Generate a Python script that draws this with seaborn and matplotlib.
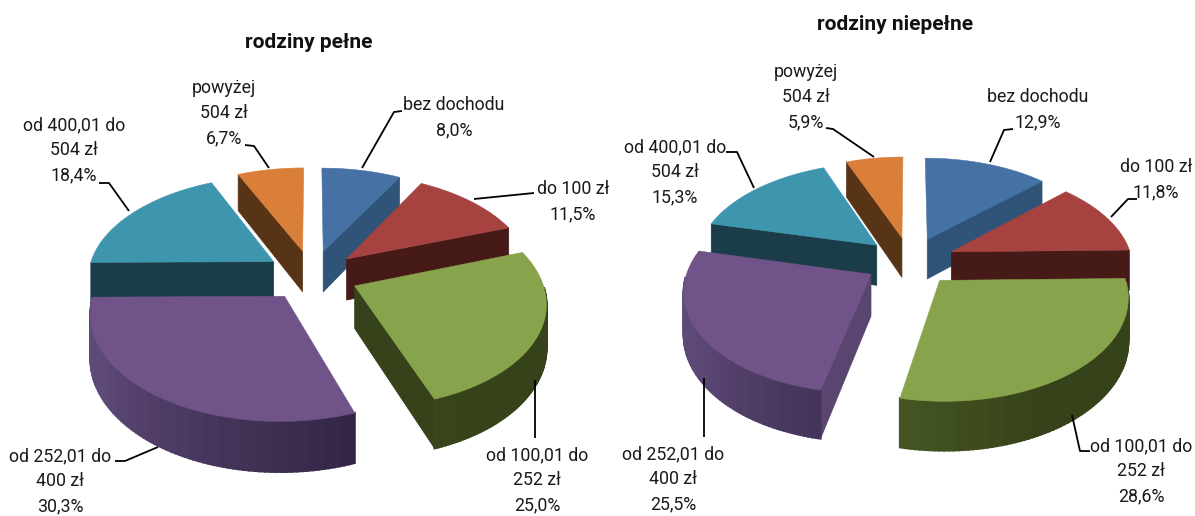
import numpy as np
import matplotlib
matplotlib.use("Agg")
import matplotlib.pyplot as plt
import seaborn as sns

# income groups, wrapped the same way as on the chart
labels_full = ["bez dochodu", "do 100 zł", "od 100,01 do\n252 zł", "od 252,01 do\n400 zł",
               "od 400,01 do\n504 zł", "powyżej\n504 zł"]
values_full = [8.0, 11.5, 25.0, 30.3, 18.4, 6.7]
values_single = [12.9, 11.8, 28.6, 25.5, 15.3, 5.9]
title_full = "rodziny pełne"
title_single = "rodziny niepełne"

top_colours = ["#4571A5", "#A64340", "#87A44C", "#705388", "#3E95AE", "#D97F3A"]
cut_colours = ["#2F5478", "#451A17", "#364219", "#59456F", "#1A3D49", "#583417"]
rim_dark = ["#2F5478", "#451A17", "#364219", "#2E2240", "#1A3D49", "#583417"]
rim_light = ["#2F5478", "#451A17", "#586E2E", "#5E4A78", "#1A3D49", "#583417"]

FONT = ["Roboto"]
FOCAL = 0.14      # perspective strength
EXPLODE = 0.25


def project(u, v, z, geo):
    s = 1 / (1 - FOCAL * v)
    return geo["cx"] + geo["rx"] * u * s, geo["cy"] + geo["ry"] * v * s + z * geo["depth"] * s


def wedge(ax, start, stop, top, cut, dark, light, geo):
    # angles run clockwise from north, v grows towards the viewer
    mid = np.radians((start + stop) / 2)
    u0, v0 = EXPLODE * np.sin(mid), -EXPLODE * np.cos(mid)
    ang = np.linspace(start, stop, 80)
    rad = np.radians(ang)
    u, v = u0 + np.sin(rad), v0 - np.cos(rad)

    # the two cut faces, only when they look at the viewer
    for a, visible in [(start, np.sin(np.radians(start)) < 0), (stop, np.sin(np.radians(stop)) > 0)]:
        if visible:
            ue, ve = u0 + np.sin(np.radians(a)), v0 - np.cos(np.radians(a))
            x = [project(u0, v0, z, geo)[0] for z in (0, 1)] + [project(ue, ve, z, geo)[0] for z in (1, 0)]
            y = [project(u0, v0, z, geo)[1] for z in (0, 1)] + [project(ue, ve, z, geo)[1] for z in (1, 0)]
            ax.fill(x, y, color=cut, lw=0.5)

    # outer rim in thin slices, so it can carry the shading
    shades = sns.blend_palette([dark, light], 21)
    for i in range(len(ang) - 1):
        if np.cos(rad[i]) > -0.03 and np.cos(rad[i + 1]) > -0.03:
            continue
        xa, ya = project(u[i], v[i], 0, geo)
        xb, yb = project(u[i + 1], v[i + 1], 0, geo)
        xc, yc = project(u[i + 1], v[i + 1], 1, geo)
        xd, yd = project(u[i], v[i], 1, geo)
        t = np.clip((ang[i] - 150) / 90, 0, 1)
        ax.fill([xa, xb, xc, xd], [ya, yb, yc, yd], color=shades[int(t * 20)], lw=1.5)

    x, y = project(np.r_[u0, u], np.r_[v0, v], 0, geo)
    ax.fill(x, y, color=top, lw=0.4)


def draw_pie(ax, values, geo):
    edges = np.r_[0, np.cumsum(values)] / np.sum(values) * 360
    order = sorted(range(len(values)), key=lambda k: -np.cos(np.radians((edges[k] + edges[k + 1]) / 2)))
    for k in order:
        wedge(ax, edges[k], edges[k + 1], top_colours[k], cut_colours[k], rim_dark[k], rim_light[k], geo)


def annotate(ax, values, title, title_pos, layout):
    ax.text(*title_pos, title, ha="center", va="center", fontsize=15, fontweight="bold",
            family=FONT, color="#111111")
    for k, (name, value) in enumerate(zip(labels_full, values)):
        tx, ty, line = layout[k]
        text = name + "\n" + f"{value:.1f}%".replace(".", ",")
        ax.text(tx, ty, text, ha="center", va="center", fontsize=12.8, family=FONT,
                color="#1a1a1a", linespacing=1.5)
        ax.plot(*zip(*line), color="black", lw=1.3, solid_capstyle="butt")


geo_full = {"cx": 312, "cy": 275, "rx": 186, "ry": 101, "depth": 42}
geo_single = {"cx": 910, "cy": 261, "rx": 181, "ry": 98, "depth": 41}

layout_full = [
    (454, 118, [(402, 111), (394, 112), (362, 168)]),
    (573, 202, [(534, 193), (474, 199)]),
    (537, 480, [(535, 438), (535, 380)]),
    (60, 481, [(115, 461), (125, 461), (158, 447)]),
    (74, 150, [(99, 183), (109, 183), (129, 211)]),
    (224, 113, [(245, 145), (254, 146), (269, 168)]),
]
layout_single = [
    (1038, 110, [(1013, 129), (1004, 130), (990, 162)]),
    (1156, 180, [(1137, 199), (1128, 199), (1111, 217)]),
    (1141, 471, [(1090, 451), (1080, 451), (1072, 415)]),
    (673, 479, [(704, 437), (704, 378)]),
    (675, 172, [(726, 152), (737, 152), (754, 188)]),
    (806, 97, [(826, 128), (833, 129), (874, 157)]),
]

sns.set_theme(style="white")
fig = plt.figure(figsize=(11.95, 5.16), dpi=100)
ax = fig.add_axes([0, 0, 1, 1])
ax.set_xlim(0, 1195)
ax.set_ylim(516, 0)
ax.axis("off")

draw_pie(ax, values_full, geo_full)
draw_pie(ax, values_single, geo_single)
annotate(ax, values_full, title_full, (309, 42), layout_full)
annotate(ax, values_single, title_single, (895, 25), layout_single)

fig.savefig("out.png", dpi=100)
